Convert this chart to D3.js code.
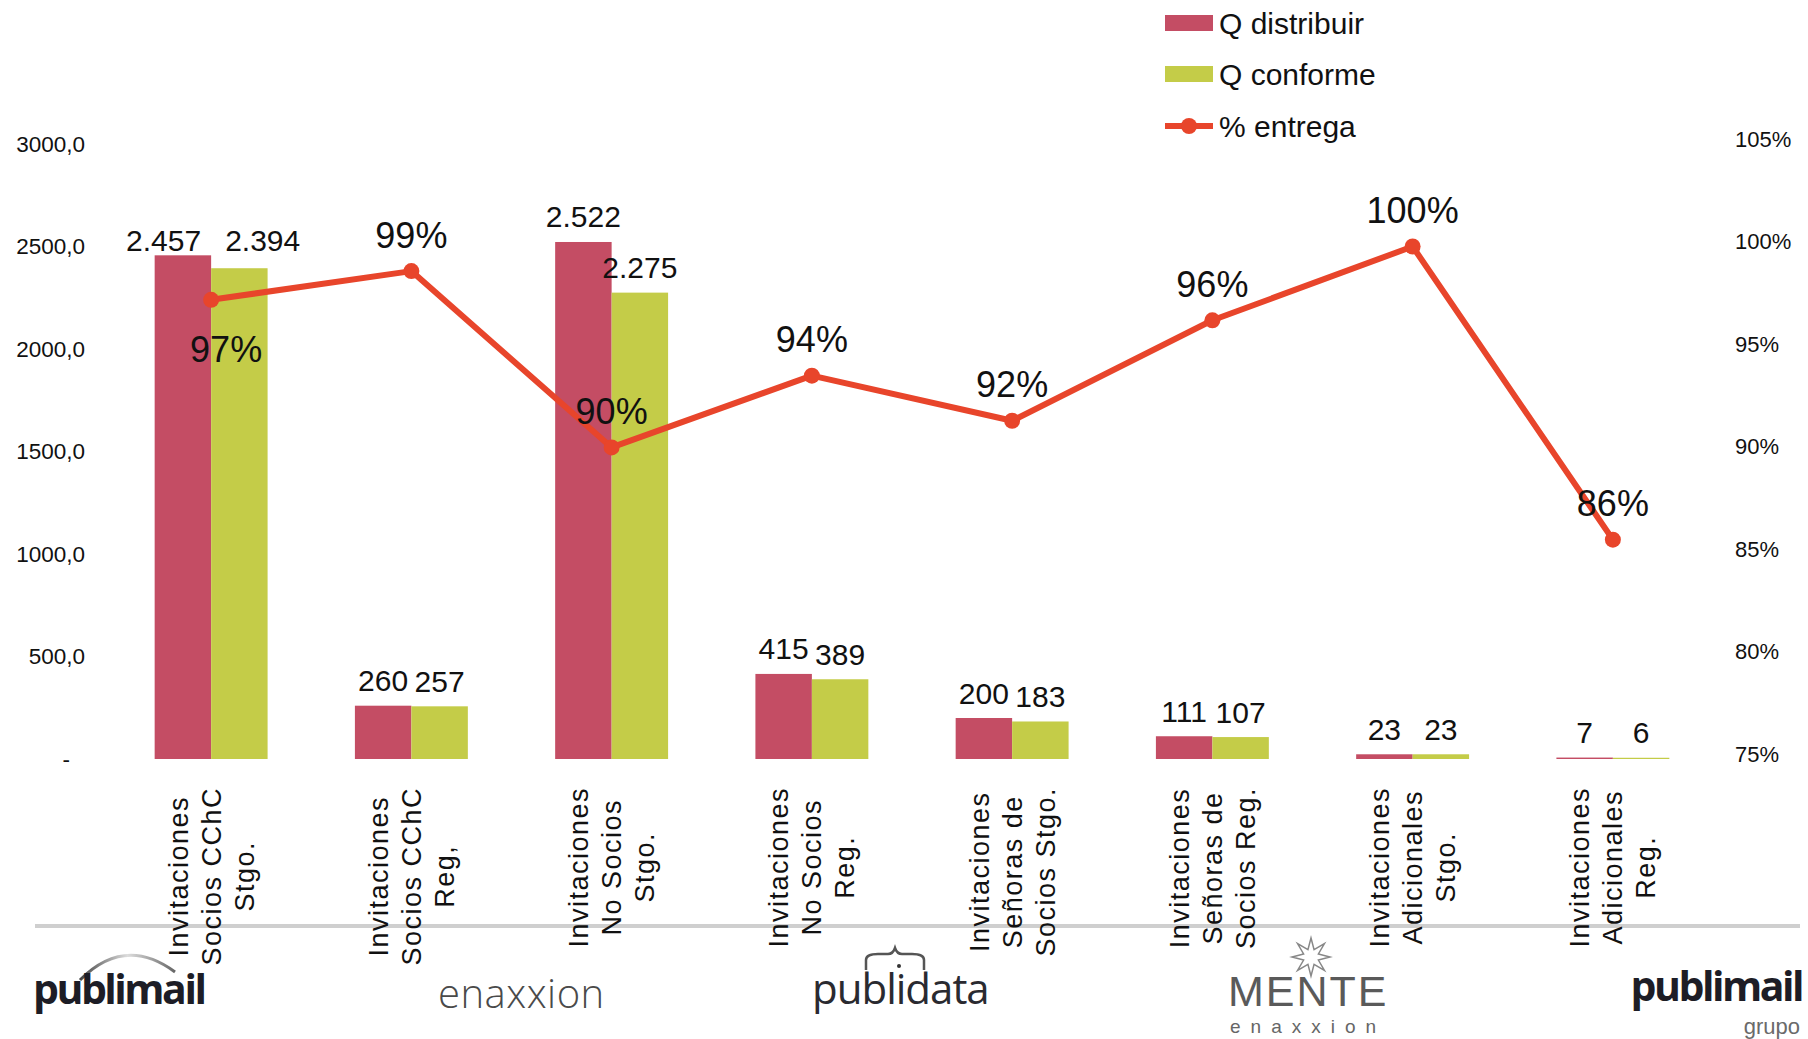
<!DOCTYPE html>
<html>
<head>
<meta charset="utf-8">
<script src="https://cdn.jsdelivr.net/npm/d3@7"></script>
<style>
  html, body { margin: 0; padding: 0; background: #ffffff; }
  svg { display: block; }
  text { font-family: "Liberation Sans", Arial, sans-serif; fill: #111; }
</style>
</head>
<body>
<svg id="chart" width="1808" height="1039"></svg>
<script>
// ---- data ----
const categories = [
  ["Invitaciones", "Socios CChC", "Stgo."],
  ["Invitaciones", "Socios CChC", "Reg,"],
  ["Invitaciones", "No Socios", "Stgo."],
  ["Invitaciones", "No Socios", "Reg."],
  ["Invitaciones", "Señoras de", "Socios Stgo."],
  ["Invitaciones", "Señoras de", "Socios Reg."],
  ["Invitaciones", "Adicionales", "Stgo."],
  ["Invitaciones", "Adicionales", "Reg."]
];
const qDistribuir = [2457, 260, 2522, 415, 200, 111, 23, 7];
const qConforme   = [2394, 257, 2275, 389, 183, 107, 23, 6];
const pctEntrega  = [0.974, 0.988, 0.902, 0.937, 0.915, 0.964, 1.0, 0.857];
const leftTicks   = [0, 500, 1000, 1500, 2000, 2500, 3000];
const rightTicks  = [0.75, 0.80, 0.85, 0.90, 0.95, 1.00, 1.05];
const seriesNames = ["Q distribuir", "Q conforme", "% entrega"];

const colors = { dist: "#c44d64", conf: "#c4cc48", line: "#e8452b" };

const svg = d3.select("#chart");
const catKeys = categories.map((c, i) => "c" + i);

// ---- scales ----
const x = d3.scaleBand().domain(catKeys).range([111, 1713])
  .paddingInner(0.436).paddingOuter(0.218);
const xSub = d3.scaleBand().domain(["dist", "conf"]).range([0, x.bandwidth()]);
const yLeft = d3.scaleLinear().domain([0, 3000]).range([759, 144]);
const yRight = d3.scaleLinear().domain([0.75, 1.05]).range([759, 144]);

// ---- axes (labels only, no domain line or ticks) ----
const fmtLeft = v => v === 0 ? "-" : d3.format(".1f")(v).replace(".", ",");
const gLeft = svg.append("g").attr("transform", "translate(85,0)")
  .call(d3.axisLeft(yLeft).tickValues(leftTicks).tickSize(0).tickPadding(0).tickFormat(fmtLeft));
gLeft.select(".domain").remove();
gLeft.selectAll("text").attr("font-size", 22.5).attr("font-family", "Liberation Sans, Arial, sans-serif")
  .attr("fill", "#111");
gLeft.selectAll(".tick").filter(d => d === 0).select("text").attr("dx", -15);

const gRight = svg.append("g").attr("transform", "translate(1735,0)")
  .call(d3.axisRight(yRight).tickValues(rightTicks).tickSize(0).tickPadding(0).tickFormat(d3.format(".0%")));
gRight.select(".domain").remove();
gRight.selectAll("text").attr("font-size", 22).attr("font-family", "Liberation Sans, Arial, sans-serif")
  .attr("fill", "#111").attr("dy", "0.1em");

// ---- bars ----
const rows = catKeys.map((k, i) => ({ key: k, i, dist: qDistribuir[i], conf: qConforme[i], pct: pctEntrega[i] }));
const gBars = svg.append("g");
rows.forEach(r => {
  ["dist", "conf"].forEach(s => {
    gBars.append("rect")
      .attr("x", x(r.key) + xSub(s))
      .attr("width", xSub.bandwidth())
      .attr("y", yLeft(r[s]))
      .attr("height", yLeft(0) - yLeft(r[s]))
      .attr("fill", colors[s]);
  });
});

// ---- bar value labels ----
const fmtQ = v => d3.format(",")(v).replace(/,/g, ".");
const barFont = 30;
const gBarLabels = svg.append("g");
const barLabelBoxes = [];
rows.forEach(r => {
  const items = ["dist", "conf"].map(s => {
    const t = gBarLabels.append("text").attr("font-size", barFont)
      .attr("text-anchor", "middle").attr("dy", "0.35em").text(fmtQ(r[s]));
    return { t, w: t.node().getComputedTextLength(), cx: x(r.key) + xSub(s) + xSub.bandwidth() / 2, cy: yLeft(r[s]) - 25 };
  });
  const [a, b] = items;
  // when the two labels would collide, level them and push them apart
  if (Math.abs(a.cy - b.cy) < barFont && Math.abs(a.cx - b.cx) < (a.w + b.w) / 2 + 6) {
    const my = (a.cy + b.cy) / 2 + 4, mx = (a.cx + b.cx) / 2, sep = (a.w + b.w) / 2 + 20;
    a.cy = b.cy = my; a.cx = mx - sep / 2; b.cx = mx + sep / 2 + 4;
  }
  items.forEach(it => {
    it.t.attr("x", it.cx).attr("y", it.cy);
    barLabelBoxes.push({ x0: it.cx - it.w / 2, x1: it.cx + it.w / 2, y0: it.cy - 15, y1: it.cy + 15 });
  });
});

// ---- % entrega line ----
const cx = r => x(r.key) + x.bandwidth() / 2;
svg.append("path").datum(rows)
  .attr("fill", "none").attr("stroke", colors.line).attr("stroke-width", 6)
  .attr("stroke-linejoin", "round")
  .attr("d", d3.line().x(cx).y(r => yRight(r.pct)));
svg.append("g").selectAll("circle").data(rows).join("circle")
  .attr("cx", cx).attr("cy", r => yRight(r.pct)).attr("r", 8).attr("fill", colors.line);

// percentage labels: above the point unless that spot is taken by a bar label
const pctFont = 36;
const gPct = svg.append("g");
rows.forEach(r => {
  const t = gPct.append("text").attr("font-size", pctFont).attr("text-anchor", "middle")
    .attr("dy", "0.35em").text(Math.round(r.pct * 100) + "%");
  const w = t.node().getComputedTextLength();
  let lx = cx(r), ly = yRight(r.pct) - 36;
  const hit = barLabelBoxes.some(b => lx + w / 2 > b.x0 && lx - w / 2 < b.x1 && ly + 17 > b.y0 && ly - 17 < b.y1);
  if (hit) { ly = yRight(r.pct) + 50; lx += 15; }
  t.attr("x", lx).attr("y", ly);
});

// ---- separator line ----
svg.append("line").attr("x1", 35).attr("x2", 1800).attr("y1", 926).attr("y2", 926)
  .attr("stroke", "#cfcfcf").attr("stroke-width", 4);

// ---- category labels (rotated, lines centred inside a block hanging from the axis) ----
const catFont = 27, lineGap = 33, labelTop = 787;
rows.forEach(r => {
  const g = svg.append("g").attr("transform", `translate(${cx(r)},${labelTop}) rotate(-90)`);
  const lines = categories[r.i];
  const texts = lines.map((s, j) => g.append("text").attr("font-size", catFont)
    .attr("letter-spacing", 1.5).attr("text-anchor", "middle")
    .attr("y", (j - (lines.length - 1) / 2) * lineGap).attr("dy", "0.35em").text(s));
  const maxLen = d3.max(texts, t => t.node().getComputedTextLength());
  texts.forEach(t => t.attr("x", -maxLen / 2));
});

// ---- legend ----
const gLeg = svg.append("g");
const legRows = [23, 74, 126];
gLeg.append("rect").attr("x", 1165).attr("y", legRows[0] - 8).attr("width", 48).attr("height", 16).attr("fill", colors.dist);
gLeg.append("rect").attr("x", 1165).attr("y", legRows[1] - 8).attr("width", 48).attr("height", 16).attr("fill", colors.conf);
gLeg.append("line").attr("x1", 1165).attr("x2", 1213).attr("y1", legRows[2]).attr("y2", legRows[2])
  .attr("stroke", colors.line).attr("stroke-width", 6);
gLeg.append("circle").attr("cx", 1189).attr("cy", legRows[2]).attr("r", 8).attr("fill", colors.line);
seriesNames.forEach((n, i) => gLeg.append("text").attr("x", 1219).attr("y", legRows[i])
  .attr("dy", "0.35em").attr("font-size", 30).text(n));

// ---- company marks along the footer ----
const gFoot = svg.append("g");
const defs = svg.append("defs");
const arcGrad = defs.append("linearGradient").attr("id", "arcGrad").attr("x1", "0").attr("x2", "1");
arcGrad.append("stop").attr("offset", "0").attr("stop-color", "#444");
arcGrad.append("stop").attr("offset", "0.5").attr("stop-color", "#ddd");
arcGrad.append("stop").attr("offset", "1").attr("stop-color", "#666");

gFoot.append("path").attr("d", "M80,980 Q125,935 175,972").attr("fill", "none")
  .attr("stroke", "url(#arcGrad)").attr("stroke-width", 3);
gFoot.append("text").attr("x", 33).attr("y", 1004)
  .attr("font-weight", 700).attr("font-size", 41).attr("letter-spacing", -2.5).style("fill", "#1d1d26")
  .style("font-family", "'Open Sans', sans-serif").text("publimail");

gFoot.append("text").attr("x", 438).attr("y", 1008)
  .style("font-family", "'Open Sans', sans-serif").attr("font-weight", 300)
  .attr("font-size", 40).attr("letter-spacing", 0.5).style("fill", "#4a4a4a").text("enaxxion");

gFoot.append("path").attr("d", "M866,970 L866,960 Q866,954 878,954 L888,954 Q893,954 895,948 Q897,954 902,954 L912,954 Q924,954 924,960 L924,970")
  .attr("fill", "none").attr("stroke", "#555").attr("stroke-width", 2.5);
gFoot.append("circle").attr("cx", 899).attr("cy", 966).attr("r", 2).attr("fill", "#333");
gFoot.append("text").attr("x", 812).attr("y", 1004)
  .style("font-family", "'Open Sans', sans-serif").attr("font-weight", 400)
  .attr("font-size", 42).attr("letter-spacing", -1).style("fill", "#2a2a30").text("publidata");

const star = d3.range(16).map(k => {
  const a = k * Math.PI / 8 - Math.PI / 2, rr = k % 2 ? 8 : 19;
  return [1311 + rr * Math.cos(a), 957 + rr * Math.sin(a)];
});
gFoot.append("polygon").attr("points", star.map(p => p.join(",")).join(" "))
  .attr("fill", "none").attr("stroke", "#888").attr("stroke-width", 1.5);
gFoot.append("text").attr("x", 1228).attr("y", 1006)
  .attr("font-size", 43).attr("letter-spacing", 2).style("fill", "#5a5a5a").text("MENTE");
gFoot.append("text").attr("x", 1230).attr("y", 1033)
  .attr("font-size", 19).attr("letter-spacing", 10).style("fill", "#666").text("enaxxion");

gFoot.append("text").attr("x", 1802).attr("y", 1001).attr("text-anchor", "end")
  .style("font-family", "'Open Sans', sans-serif").attr("font-weight", 700)
  .attr("font-size", 41).attr("letter-spacing", -2.5).style("fill", "#1d1d26").text("publimail");
gFoot.append("text").attr("x", 1800).attr("y", 1034).attr("text-anchor", "end")
  .attr("font-size", 22).style("fill", "#6a6a6a").text("grupo");
</script>
</body>
</html>
